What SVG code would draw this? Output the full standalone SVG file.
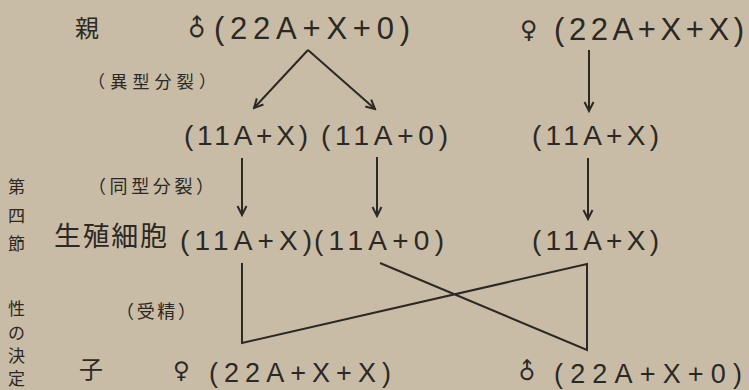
<svg xmlns="http://www.w3.org/2000/svg" width="749" height="390" viewBox="0 0 749 390">
<defs>
<style>
.lat{font-family:"Liberation Sans","DejaVu Sans",sans-serif;fill:#2c2823}
.jp{font-family:"Noto Sans CJK JP","Noto Sans CJK SC",sans-serif;fill:#2c2823}
.sym{font-family:"DejaVu Sans",sans-serif;fill:#2c2823}
.ln{fill:none;stroke:#2c2823;stroke-width:2;stroke-linejoin:miter}
</style>
<marker id="ah" viewBox="0 0 12 12" refX="10" refY="6" markerWidth="12" markerHeight="12" markerUnits="userSpaceOnUse" orient="auto">
<path d="M1,1.5 L10,6 L1,10.5" fill="none" stroke="#2c2823" stroke-width="2"/>
</marker>
</defs>
<rect width="749" height="390" fill="#c8bca6"/>

<g id="side-label" class="jp" font-size="17">
<text x="8" y="193">第</text>
<text x="8" y="222">四</text>
<text x="8" y="250">節</text>
<text x="8" y="315">性</text>
<text x="8" y="339">の</text>
<text x="8" y="362">決</text>
<text x="8" y="385">定</text>
</g>

<g id="row-labels">
<text class="jp" x="75" y="37" font-size="24">親</text>
<text class="jp" x="88" y="88" font-size="17" textLength="128" lengthAdjust="spacing">（異型分裂）</text>
<text class="jp" x="88" y="193" font-size="18" textLength="126" lengthAdjust="spacing">（同型分裂）</text>
<text class="jp" x="54" y="246" font-size="27" textLength="113" lengthAdjust="spacing">生殖細胞</text>
<text class="jp" x="116" y="318" font-size="18" textLength="80" lengthAdjust="spacing">（受精）</text>
<text class="jp" x="79" y="378" font-size="24">子</text>
</g>

<g id="parent-male">
<text class="sym" font-size="24" transform="translate(197,28) rotate(-45)" text-anchor="middle" dominant-baseline="central">♂</text>
<text class="lat" x="214" y="39" font-size="31" textLength="196" lengthAdjust="spacing">(22A+X+0)</text>
</g>
<g id="parent-female">
<text class="sym" x="520" y="38" font-size="24">♀</text>
<text class="lat" x="554" y="40" font-size="31" textLength="190" lengthAdjust="spacing">(22A+X+X)</text>
</g>

<g id="male-gamete-x1"><text class="lat" x="184" y="145" font-size="28" textLength="124" lengthAdjust="spacing">(11A+X)</text></g>
<g id="male-gamete-o1"><text class="lat" x="321" y="145" font-size="28" textLength="127" lengthAdjust="spacing">(11A+0)</text></g>
<g id="female-gamete-x1"><text class="lat" x="532" y="145" font-size="28" textLength="127" lengthAdjust="spacing">(11A+X)</text></g>

<g id="male-germ-x"><text class="lat" x="180" y="250" font-size="28" textLength="132" lengthAdjust="spacing">(11A+X)</text></g>
<g id="male-germ-o"><text class="lat" x="314" y="250" font-size="28" textLength="130" lengthAdjust="spacing">(11A+0)</text></g>
<g id="female-germ-x"><text class="lat" x="532" y="250" font-size="28" textLength="127" lengthAdjust="spacing">(11A+X)</text></g>

<g id="child-female">
<text class="sym" x="173" y="378" font-size="23">♀</text>
<text class="lat" x="209" y="382" font-size="27" textLength="182" lengthAdjust="spacing">(22A+X+X)</text>
</g>
<g id="child-male">
<text class="sym" font-size="23" transform="translate(527,371) rotate(-45)" text-anchor="middle" dominant-baseline="central">♂</text>
<text class="lat" x="554" y="383" font-size="27" textLength="188" lengthAdjust="spacing">(22A+X+0)</text>
</g>

<g id="connectors" class="ln">
<line x1="308" y1="50" x2="254" y2="108" marker-end="url(#ah)"/>
<line x1="308" y1="50" x2="375" y2="109" marker-end="url(#ah)"/>
<line x1="589" y1="50" x2="589" y2="111" marker-end="url(#ah)"/>
<line x1="242" y1="158" x2="242" y2="215" marker-end="url(#ah)"/>
<line x1="377" y1="157" x2="377" y2="216" marker-end="url(#ah)"/>
<line x1="588" y1="158" x2="588" y2="219" marker-end="url(#ah)"/>
<polyline points="242,263 242,343 587,264 587,350 380,263"/>
</g>
</svg>
